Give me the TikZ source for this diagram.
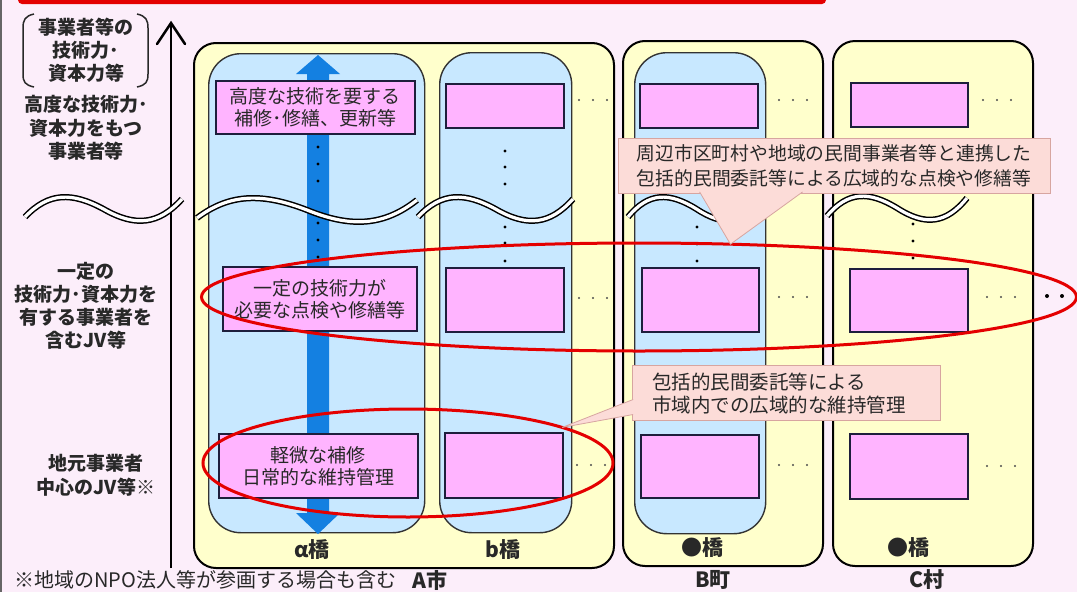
\documentclass[tikz,border=0pt]{standalone}
\usepackage{fontspec}
\setmainfont{Noto Sans CJK JP}
\usetikzlibrary{shapes.geometric,calc}
\definecolor{bgc}{RGB}{252,238,250}
\definecolor{cityc}{RGB}{255,255,204}
\definecolor{colc}{RGB}{200,232,255}
\definecolor{pinkc}{RGB}{255,180,255}
\definecolor{boxline}{RGB}{30,30,60}
\definecolor{arrowblue}{RGB}{20,128,225}
\definecolor{redc}{RGB}{228,0,0}
\definecolor{callc}{RGB}{252,220,216}
\definecolor{callb}{RGB}{215,165,160}
\definecolor{txt}{RGB}{40,40,40}
\tikzset{
  city/.style={draw=black, line width=2pt, fill=cityc, rounded corners=22pt, anchor=north west, inner sep=0pt},
  bcol/.style={draw=black!80, line width=1.4pt, fill=colc, rounded corners=32pt, anchor=north west, inner sep=0pt},
  pbox/.style={draw=boxline, line width=1.6pt, fill=pinkc, anchor=north west, inner sep=0pt, align=center, text=txt, font=\fontsize{19}{22}\selectfont},
  lab/.style={align=center, text=txt, font=\fontsize{19}{23.5}\selectfont\bfseries},
  blab/.style={text=txt, font=\fontsize{21}{24}\selectfont\bfseries},
  wavestyle/.style={draw=black, line width=1.5pt, double=white, double distance=3.2pt},
  redell/.style={ellipse, draw=redc, line width=3pt, inner sep=0pt, outer sep=0pt},
  callout/.style={fill=callc, draw=callb, line width=0.8pt},
}
\newcommand\wavy[3]{\draw[wavestyle] (#1,#3+8) .. controls ({#1+0.15*(#2-#1)},#3-17) and ({#1+0.3*(#2-#1)},#3-17) .. ({(#1+#2)/2},#3) .. controls ({#1+0.7*(#2-#1)},#3+18) and ({#1+0.85*(#2-#1)},#3+16) .. (#2,#3-10);}
\newcommand\vdotmark[2]{\fill[black] (#1,#2) circle (1.7pt);}
\newcommand\hdotmark[2]{\foreach \k in {0,1,2} {\fill[black!70] ({#1+14*\k},#2) circle (1.2pt);}}
\begin{document}
\begin{tikzpicture}[x=1pt,y=-1pt]
\useasboundingbox (0,0) rectangle (1077,592);
\fill[bgc] (0,0) rectangle (1077,592);
\fill[redc, rounded corners=4pt] (18,-12) rectangle (826,4);
\draw[black!60, line width=1.5pt] (1,0) -- (1,592);

% cities
\node[city, minimum width=420pt, minimum height=525pt] (A) at (193,42) {};
\node[city, minimum width=200pt, minimum height=525pt] (B) at (622,40) {};
\node[city, minimum width=200pt, minimum height=525pt] (C) at (832,40) {};

% bridge columns
\node[bcol, minimum width=216pt, minimum height=479pt] (acol) at (208,53) {};
\node[bcol, minimum width=132pt, minimum height=480pt] (bcol) at (439,52) {};
\node[bcol, minimum width=131pt, minimum height=481pt] (Bcol) at (634,52) {};

% blue double arrow
\fill[arrowblue] (318,55) -- (340,74) -- (329,74) -- (329,513) -- (340,513) -- (318,534) -- (296,513) -- (307,513) -- (307,74) -- (296,74) -- cycle;

% pink boxes
\node[pbox, minimum width=199pt, minimum height=53pt] (a1) at (215,80) {高度な技術を要する\\補修･修繕、更新等};
\node[pbox, minimum width=194pt, minimum height=64pt] (a2) at (222,266) {一定の技術力が\\必要な点検や修繕等};
\node[pbox, minimum width=199pt, minimum height=64pt] (a3) at (218,433) {軽微な補修\\日常的な維持管理};
\node[pbox, minimum width=118pt, minimum height=44pt] (b1) at (445,83) {};
\node[pbox, minimum width=118pt, minimum height=64pt] (b2) at (445,267) {};
\node[pbox, minimum width=118pt, minimum height=65pt] (b3) at (444,432) {};
\node[pbox, minimum width=118pt, minimum height=44pt] (B1) at (639,83) {};
\node[pbox, minimum width=117pt, minimum height=64pt] (B2) at (641,267) {};
\node[pbox, minimum width=118pt, minimum height=63pt] (B3) at (640,434) {};
\node[pbox, minimum width=117pt, minimum height=44pt] (C1) at (850,82) {};
\node[pbox, minimum width=118pt, minimum height=63pt] (C2) at (849,268) {};
\node[pbox, minimum width=118pt, minimum height=65pt] (C3) at (849,433) {};

% vertical dots
\foreach \y in {147,164,181,223,240,257} {\vdotmark{318}{\y}}
\foreach \y in {151,167,184,227,243,261} {\vdotmark{505}{\y}}
\foreach \y in {227,244,261} {\vdotmark{697}{\y}}
\foreach \y in {224,241,258} {\vdotmark{913}{\y}}

% horizontal dots
\hdotmark{579}{100}\hdotmark{779}{100}\hdotmark{983}{100}
\hdotmark{579}{298}\hdotmark{779}{297}\hdotmark{987}{297}
\hdotmark{577}{465}\hdotmark{779}{465}\hdotmark{987}{466}
\foreach \x in {1047,1062,1077} {\fill[black] (\x,296) circle (2pt);}

% axis
\draw[black, line width=2.5pt] (171,568) -- (171,24);
\draw[black, line width=2.5pt, line cap=round, line join=miter] (157,44) -- (171,23) -- (185,44);

% waves
\wavy{25}{182}{209}
\wavy{197}{417}{210}
\wavy{418}{573}{209}
\wavy{628}{765}{209}
\wavy{827}{967}{208}

% left brackets and labels
\draw[txt, line width=1.5pt] (34,14) .. controls (25,16) and (23,20) .. (23,28) -- (23,74) .. controls (23,82) and (25,85) .. (34,87);
\draw[txt, line width=1.5pt] (137,14) .. controls (146,16) and (148,20) .. (148,28) -- (148,74) .. controls (148,82) and (146,85) .. (137,87);
\node[lab, font=\fontsize{19}{23}\selectfont\bfseries] (brk) at (86,50) {事業者等の\\技術力･\\資本力等};
\node[lab] (l1) at (86,128) {高度な技術力･\\資本力をもつ\\事業者等};
\node[lab, font=\fontsize{19}{23}\selectfont\bfseries] (l2) at (86,306) {一定の\\技術力･資本力を\\有する事業者を\\含むJV等};
\node[lab, font=\fontsize{19}{24}\selectfont\bfseries] (l3) at (96,475) {地元事業者\\中心のJV等※};

% column labels
\node[blab] (al) at (312,550) {α橋};
\node[blab] (bl) at (503,550) {b橋};
\node[blab] (Bl) at (702,548) {●橋};
\node[blab] (Cl) at (908,548) {●橋};
\node[blab, font=\fontsize{21}{24}\selectfont\bfseries] (Al) at (430,580) {A市};
\node[blab, font=\fontsize{21}{24}\selectfont\bfseries] (Bt) at (713,580) {B町};
\node[blab, font=\fontsize{21}{24}\selectfont\bfseries] (Ct) at (927,580) {C村};
\node[anchor=west, text=txt, font=\fontsize{20}{22}\selectfont, inner sep=0pt] (foot) at (14,580) {※地域のNPO法人等が参画する場合も含む};

% red ellipses
\node[redell, minimum width=875pt, minimum height=108pt] (e1) at (639,297) {};
\node[redell, minimum width=410pt, minimum height=108pt] (e2) at (408,463) {};

% callouts
\node[callout, minimum width=432pt, minimum height=55pt, inner sep=0pt, align=center, text=txt, font=\fontsize{18.8}{25}\selectfont] (c1) at (834,165.5) {周辺市区町村や地域の民間事業者等と連携した\\包括的民間委託等による広域的な点検や修繕等};
\filldraw[callout] ($(c1.south west)+(82,-1.5)$) -- (e1.30) -- ($(c1.south west)+(185,-1.5)$);
\node[callout, minimum width=308pt, minimum height=55pt, inner sep=0pt] (c2) at (786,392.5) {};
\filldraw[callout] ($(c2.west)+(1.5,7)$) -- (e2.13) -- ($(c2.west)+(1.5,22)$);
\node[anchor=west, align=left, text=txt, font=\fontsize{19.5}{23}\selectfont, inner sep=0pt] (c2t) at (652,393.5) {包括的民間委託等による\\市域内での広域的な維持管理};
\end{tikzpicture}
\end{document}
